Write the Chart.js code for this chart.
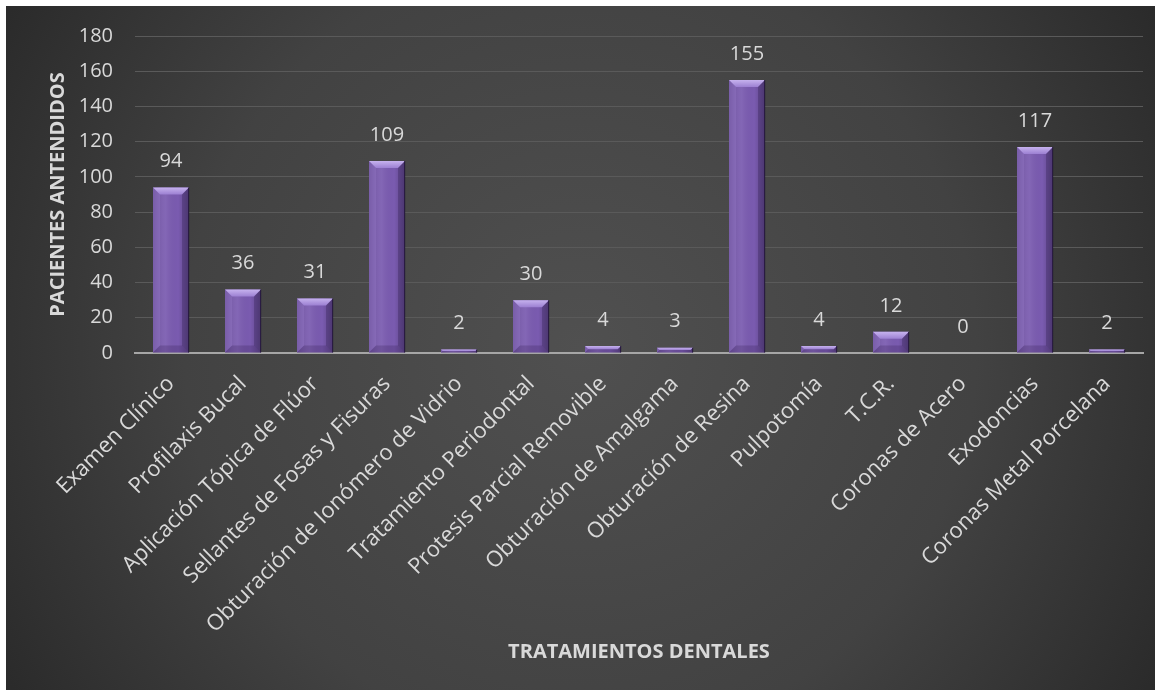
<!DOCTYPE html>
<html>
<head>
<meta charset="utf-8">
<script src="https://cdn.jsdelivr.net/npm/chart.js@4.4.1/dist/chart.umd.min.js"></script>
<style>
  html, body { margin: 0; padding: 0; background: #ffffff; }
  #wrap { position: absolute; left: 0; top: 0; width: 1161px; height: 696px; }
</style>
</head>
<body>
<div id="wrap"><canvas id="c" width="1161" height="696"></canvas></div>
<script>
const categories = [
  "Examen Clínico",
  "Profilaxis Bucal",
  "Aplicación Tópica de Flúor",
  "Sellantes de Fosas y Fisuras",
  "Obturación de Ionómero de Vidrio",
  "Tratamiento Periodontal",
  "Protesis Parcial Removible",
  "Obturación de Amalgama",
  "Obturación de Resina",
  "Pulpotomía",
  "T.C.R.",
  "Coronas de Acero",
  "Exodoncias",
  "Coronas Metal Porcelana"
];
const pacientes = [94, 36, 31, 109, 2, 30, 4, 3, 155, 4, 12, 0, 117, 2];
const yMin = 0, yMax = 180, yStep = 20;
const yTitle = "PACIENTES ANTENDIDOS";
const xTitle = "TRATAMIENTOS DENTALES";

const FONT = "'Open Sans', 'DejaVu Sans', sans-serif";
const TXT = "#d9d9d9";

const bgPlugin = {
  id: 'bg',
  beforeDraw(chart) {
    const ctx = chart.ctx;
    const W = chart.width, H = chart.height;
    ctx.save();
    ctx.fillStyle = '#ffffff';
    ctx.fillRect(0, 0, W, H);
    const g = ctx.createRadialGradient(W / 2, H / 2, 0, W / 2, H / 2, W * 0.62);
    g.addColorStop(0, '#505050');
    g.addColorStop(0.55, '#424242');
    g.addColorStop(1, '#262626');
    ctx.fillStyle = g;
    ctx.fillRect(6, 6, W - 12, H - 12);
    ctx.restore();
  }
};

const bevelPlugin = {
  id: 'bevel',
  afterDatasetsDraw(chart) {
    const ctx = chart.ctx;
    const meta = chart.getDatasetMeta(0);
    ctx.save();
    meta.data.forEach(bar => {
      const p = bar.getProps(['x', 'y', 'base', 'width'], true);
      const l = p.x - p.width / 2, r = p.x + p.width / 2, t = p.y, b = p.base;
      const h = b - t;
      if (h <= 0.5) return;
      const bv = Math.min(7, h / 2);
      const hg = ctx.createLinearGradient(l, 0, r, 0);
      hg.addColorStop(0, 'rgba(0,0,0,0.12)');
      hg.addColorStop(0.35, 'rgba(255,255,255,0.07)');
      hg.addColorStop(0.7, 'rgba(0,0,0,0.0)');
      hg.addColorStop(1, 'rgba(0,0,0,0.25)');
      ctx.fillStyle = hg;
      ctx.fillRect(l, t, r - l, h);
      const tg = ctx.createLinearGradient(0, t, 0, t + bv);
      tg.addColorStop(0, '#c6b2ee');
      tg.addColorStop(1, '#9c80d2');
      ctx.fillStyle = tg;
      ctx.beginPath();
      ctx.moveTo(l, t); ctx.lineTo(r, t); ctx.lineTo(r - bv, t + bv); ctx.lineTo(l + bv, t + bv); ctx.closePath();
      ctx.fill();
      ctx.fillStyle = 'rgba(170,140,220,0.22)';
      ctx.beginPath();
      ctx.moveTo(l, t); ctx.lineTo(l + bv, t + bv); ctx.lineTo(l + bv, b - bv); ctx.lineTo(l, b); ctx.closePath();
      ctx.fill();
      ctx.fillStyle = 'rgba(30,15,60,0.25)';
      ctx.beginPath();
      ctx.moveTo(r, t); ctx.lineTo(r - bv, t + bv); ctx.lineTo(r - bv, b - bv); ctx.lineTo(r, b); ctx.closePath();
      ctx.fill();
      ctx.fillStyle = 'rgba(40,20,70,0.22)';
      ctx.beginPath();
      ctx.moveTo(l, b); ctx.lineTo(l + bv, b - bv); ctx.lineTo(r - bv, b - bv); ctx.lineTo(r, b); ctx.closePath();
      ctx.fill();
      ctx.fillStyle = 'rgba(25,15,45,0.7)';
      ctx.fillRect(r - 1, t, 1.2, h);
    });
    ctx.restore();
  }
};

const labelPlugin = {
  id: 'vlabels',
  afterDatasetsDraw(chart) {
    const ctx = chart.ctx;
    const meta = chart.getDatasetMeta(0);
    const ds = chart.data.datasets[0].data;
    ctx.save();
    ctx.font = "20px " + FONT;
    ctx.fillStyle = TXT;
    ctx.textAlign = 'center';
    ctx.textBaseline = 'middle';
    meta.data.forEach((bar, i) => {
      const p = bar.getProps(['x', 'y'], true);
      ctx.fillText(String(ds[i]), p.x, p.y - 26);
    });
    ctx.restore();
  }
};

new Chart(document.getElementById('c'), {
  type: 'bar',
  data: {
    labels: categories,
    datasets: [{
      data: pacientes,
      backgroundColor: '#7a5bb0',
      borderWidth: 0,
      categoryPercentage: 1.0,
      barPercentage: 0.5
    }]
  },
  options: {
    responsive: false,
    animation: false,
    devicePixelRatio: 1,
    layout: { padding: { left: 40, top: 36, right: 18, bottom: 20 } },
    plugins: { legend: { display: false }, tooltip: { enabled: false } },
    scales: {
      x: {
        grid: { display: false, drawTicks: false },
        border: { display: true, color: '#a6a6a6', width: 2 },
        ticks: {
          color: TXT,
          font: { family: FONT, size: 22 },
          minRotation: 45, maxRotation: 45,
          autoSkip: false,
          padding: 18
        },
        title: {
          display: true, text: xTitle, color: TXT,
          font: { family: FONT, size: 20, weight: 'bold' },
          padding: { top: 0, bottom: 12 }
        },
        afterFit(scale) { scale.height = 696 - 20 - 353; }
      },
      y: {
        min: yMin, max: yMax,
        grid: { color: '#5a5a5a', lineWidth: 1, drawTicks: false },
        border: { display: false },
        ticks: {
          stepSize: yStep,
          color: TXT,
          font: { family: FONT, size: 20 },
          padding: 22
        },
        title: {
          display: true, text: yTitle, color: TXT,
          font: { family: FONT, size: 20, weight: 'bold' },
          padding: { top: 6, bottom: 0 }
        },
        afterFit(scale) { scale.width = 95; }
      }
    }
  },
  plugins: [bgPlugin, bevelPlugin, labelPlugin]
});
</script>
</body>
</html>
